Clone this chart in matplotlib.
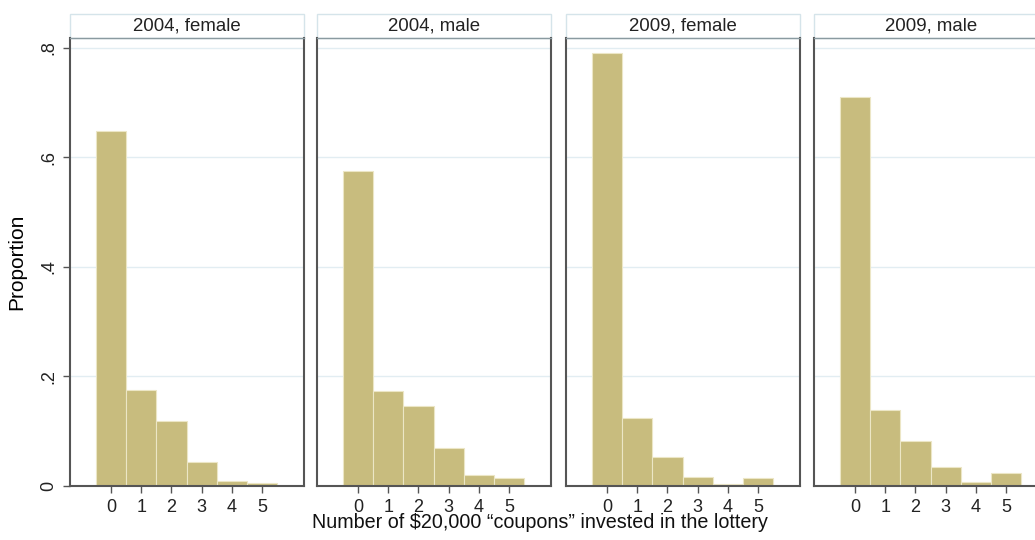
import matplotlib
matplotlib.use("Agg")
import matplotlib.pyplot as plt
from matplotlib.patches import Rectangle

panels = ["2004, female", "2004, male", "2009, female", "2009, male"]
coupons = [0, 1, 2, 3, 4, 5]
prop_2004_female = [0.648, 0.175, 0.119, 0.044, 0.009, 0.005]
prop_2004_male = [0.575, 0.174, 0.146, 0.069, 0.020, 0.015]
prop_2009_female = [0.791, 0.124, 0.053, 0.016, 0.003, 0.015]
prop_2009_male = [0.710, 0.139, 0.083, 0.035, 0.007, 0.024]
series = [prop_2004_female, prop_2004_male, prop_2009_female, prop_2009_male]
yticks = [0, 0.2, 0.4, 0.6, 0.8]
ytick_labels = ["0", ".2", ".4", ".6", ".8"]

plt.rcParams['font.family'] = ['Liberation Sans', 'DejaVu Sans']

W, H = 1035, 540
fig = plt.figure(figsize=(W / 100, H / 100), dpi=100)
lefts = [70, 317, 566, 814]
pw = 234
bottom_px, top_px = 486, 38
bar_color = "#c8bc7e"
spine_color = "#555555"
grid_color = "#e2edf2"

for i, (name, vals) in enumerate(zip(panels, series)):
    ax = fig.add_axes([lefts[i] / W, (H - bottom_px) / H, pw / W, (bottom_px - top_px) / H])
    ax.set_xlim(-1.36, 6.39)
    ax.set_ylim(0, 0.818)
    ax.bar(coupons, vals, width=1.0, color=bar_color, edgecolor="#ece6c6", linewidth=0.8, zorder=2)
    for t in yticks[1:]:
        ax.axhline(t, color=grid_color, linewidth=1.0, zorder=1)
    ax.set_xticks(coupons)
    ax.set_xticklabels([str(c) for c in coupons], fontsize=13, color="#222222")
    ax.tick_params(axis='x', length=5, width=1, color=spine_color, pad=4)
    if i == 0:
        ax.set_yticks(yticks)
        ax.set_yticklabels(ytick_labels, rotation=90, va='center', fontsize=13, color="#222222")
        ax.tick_params(axis='y', length=5, width=1, color=spine_color, pad=4)
        ax.set_ylabel("Proportion", fontsize=15, labelpad=10)
    else:
        ax.set_yticks([])
    for s in ["left", "right", "bottom"]:
        ax.spines[s].set_color(spine_color)
        ax.spines[s].set_linewidth(1.5)
    ax.spines["top"].set_color("#8a9aa0")
    ax.spines["top"].set_linewidth(1.0)
    hfrac = 24 / (bottom_px - top_px)
    rect = Rectangle((0, 1.0), 1.0, hfrac, transform=ax.transAxes, clip_on=False,
                     facecolor="white", edgecolor="#d5e4ea", linewidth=1.0)
    ax.add_patch(rect)
    ax.text(0.5, 1.0 + hfrac / 2, name, transform=ax.transAxes, ha='center', va='center',
            fontsize=13.4, color="#222222")

fig.text(540 / W, 1 - 523 / H, "Number of \\$20,000 \u201ccoupons\u201d invested in the lottery",
         ha='center', va='center', fontsize=14.2, color="#111111")

fig.savefig("out.png", dpi=100)
